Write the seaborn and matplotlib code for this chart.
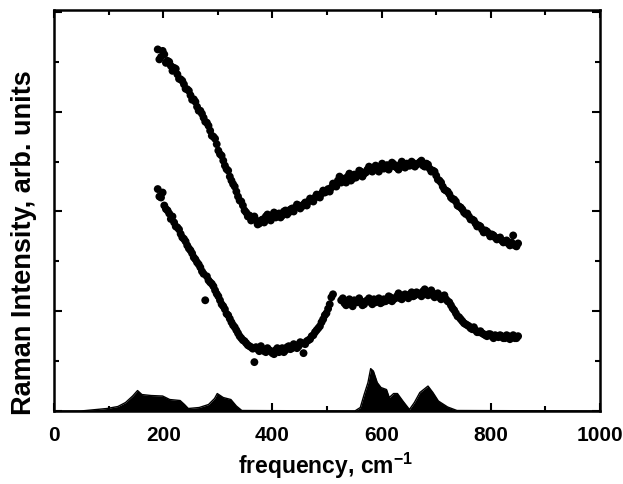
import numpy as np
import pandas as pd
import matplotlib
matplotlib.use("Agg")
import matplotlib.pyplot as plt
import seaborn as sns
from matplotlib.ticker import MultipleLocator, NullFormatter

# ---- data ----
freq = [190, 196, 202, 208, 214, 220, 226, 232, 238, 244,
        250, 256, 262, 268, 274, 280, 286, 292, 298, 304,
        310, 316, 322, 328, 334, 340, 346, 352, 358, 364,
        370, 376, 382, 388, 394, 400, 406, 412, 418, 424,
        430, 436, 442, 448, 454, 460, 466, 472, 478, 484,
        490, 496, 502, 508, 514, 520, 526, 532, 538, 544,
        550, 556, 562, 568, 574, 580, 586, 592, 598, 604,
        610, 616, 622, 628, 634, 640, 646, 652, 658, 664,
        670, 676, 682, 688, 694, 700, 706, 712, 718, 724,
        730, 736, 742, 748, 754, 760, 766, 772, 778, 784,
        790, 796, 802, 808, 814, 820, 826, 832, 838, 844,
        850]

upper = [7.25, 7.10, 7.15, 7.02, 6.92, 6.88, 6.75, 6.65, 6.55, 6.45,
         6.33, 6.25, 6.10, 6.02, 5.88, 5.78, 5.62, 5.50, 5.35, 5.15,
         5.02, 4.85, 4.70, 4.55, 4.40, 4.22, 4.12, 3.98, 3.92, 3.86,
         3.82, 3.76, 3.84, 3.90, 3.86, 3.93, 3.88, 3.96, 3.92, 4.02,
         3.98, 4.06, 4.08, 4.12, 4.10, 4.18, 4.20, 4.24, 4.28, 4.30,
         4.36, 4.38, 4.45, 4.48, 4.55, 4.62, 4.58, 4.66, 4.70, 4.62,
         4.74, 4.72, 4.80, 4.76, 4.84, 4.82, 4.88, 4.84, 4.90, 4.86,
         4.93, 4.90, 4.95, 4.88, 4.94, 4.90, 4.96, 4.92, 4.97, 4.94,
         4.99, 4.92, 4.96, 4.86, 4.82, 4.72, 4.62, 4.50, 4.42, 4.35,
         4.25, 4.20, 4.10, 4.04, 3.95, 3.90, 3.84, 3.76, 3.72, 3.64,
         3.62, 3.56, 3.54, 3.48, 3.46, 3.42, 3.40, 3.36, 3.38, 3.32,
         3.36]

lower = [4.45, 4.28, 4.12, 4.02, 3.85, 3.78, 3.68, 3.55, 3.45, 3.32,
         3.22, 3.08, 2.98, 2.88, 2.75, 2.70, 2.58, 2.50, 2.35, 2.22,
         2.10, 1.95, 1.85, 1.72, 1.62, 1.50, 1.42, 1.36, 1.30, 1.25,
         1.28, 1.20, 1.24, 1.18, 1.22, 1.16, 1.22, 1.18, 1.26, 1.22,
         1.30, 1.26, 1.32, 1.30, 1.36, 1.34, 1.42, 1.50, 1.58, 1.66,
         1.78, 1.92, 2.05, 2.28, np.nan, np.nan, 2.22, 2.16, 2.20, 2.14,
         2.22, 2.18, 2.20, 2.14, 2.22, 2.18, 2.24, 2.20, 2.16, 2.24,
         2.22, 2.28, 2.24, 2.30, 2.26, 2.32, 2.30, 2.34, 2.30, 2.38,
         2.34, 2.40, 2.36, 2.38, 2.32, 2.34, 2.28, 2.30, 2.24, 2.18,
         2.06, 1.96, 1.88, 1.80, 1.74, 1.70, 1.64, 1.62, 1.58, 1.56,
         1.52, 1.54, 1.50, 1.52, 1.48, 1.50, 1.46, 1.50, 1.48, 1.46,
         1.50]

# second, interleaved set of readings (the spectra are densely sampled)
freq2 = [193, 199, 205, 211, 217, 223, 229, 235, 241, 247,
         253, 259, 265, 271, 277, 283, 289, 295, 301, 307,
         313, 319, 325, 331, 337, 343, 349, 355, 361, 367,
         373, 379, 385, 391, 397, 403, 409, 415, 421, 427,
         433, 439, 445, 451, 457, 463, 469, 475, 481, 487,
         493, 499, 505, 511, 517, 523, 529, 535, 541, 547,
         553, 559, 565, 571, 577, 583, 589, 595, 601, 607,
         613, 619, 625, 631, 637, 643, 649, 655, 661, 667,
         673, 679, 685, 691, 697, 703, 709, 715, 721, 727,
         733, 739, 745, 751, 757, 763, 769, 775, 781, 787,
         793, 799, 805, 811, 817, 823, 829, 835, 841, 847]

upper2 = [7.05, 7.22, 6.98, 7.00, 6.82, 6.86, 6.66, 6.62, 6.46, 6.42,
          6.24, 6.20, 6.02, 5.96, 5.80, 5.72, 5.52, 5.46, 5.22, 5.12,
          4.92, 4.82, 4.62, 4.50, 4.30, 4.20, 4.02, 3.90, 3.82, 3.90,
          3.74, 3.82, 3.78, 3.94, 3.82, 3.98, 3.92, 3.88, 4.00, 3.94,
          4.04, 4.00, 4.14, 4.06, 4.14, 4.12, 4.26, 4.20, 4.34, 4.28,
          4.42, 4.40, 4.40, 4.56, 4.50, 4.70, 4.62, 4.58, 4.76, 4.66,
          4.68, 4.82, 4.70, 4.78, 4.90, 4.80, 4.92, 4.80, 4.96, 4.88,
          4.84, 4.98, 4.90, 4.84, 5.00, 4.88, 4.92, 5.00, 4.90, 4.96,
          5.02, 4.90, 4.94, 4.80, 4.80, 4.64, 4.58, 4.44, 4.40, 4.28,
          4.24, 4.12, 4.08, 3.98, 3.96, 3.84, 3.82, 3.70, 3.70, 3.58,
          3.60, 3.50, 3.52, 3.44, 3.48, 3.38, 3.42, 3.32, 3.52, 3.30]

lower2 = [4.30, 4.38, 4.05, 3.96, 3.90, 3.70, 3.64, 3.48, 3.40, 3.26,
          3.16, 3.04, 2.94, 2.80, 2.22, 2.62, 2.55, 2.42, 2.30, 2.14,
          2.04, 1.92, 1.78, 1.68, 1.56, 1.46, 1.40, 1.32, 1.28, 0.98,
          1.24, 1.30, 1.20, 1.26, 1.20, 1.14, 1.26, 1.20, 1.18, 1.28,
          1.24, 1.34, 1.26, 1.38, 1.16, 1.40, 1.44, 1.52, 1.62, 1.70,
          1.84, 1.96, 2.14, 2.34, np.nan, np.nan, 2.26, 2.12, 2.24, 2.10,
          2.18, 2.26, 2.12, 2.20, 2.26, 2.14, 2.18, 2.26, 2.18, 2.20,
          2.30, 2.20, 2.26, 2.36, 2.24, 2.34, 2.26, 2.38, 2.32, 2.36,
          2.30, 2.44, 2.32, 2.42, 2.28, 2.36, 2.24, 2.32, 2.20, 2.12,
          2.02, 1.90, 1.84, 1.76, 1.72, 1.66, 1.68, 1.58, 1.60, 1.54,
          1.50, 1.54, 1.46, 1.50, 1.52, 1.46, 1.52, 1.44, 1.52, 1.46]

dos_freq = [0, 49, 97, 117, 131, 144, 153, 161, 178, 199, 212, 231, 239, 246,
            266, 283, 294, 299, 310, 324, 334, 344, 551, 561, 568, 575, 580,
            585, 592, 599, 609, 614, 622, 629, 639, 651, 660, 670, 685, 694,
            704, 721, 738, 1000]
dos_val = [0, 0, 0.05, 0.09, 0.17, 0.30, 0.41, 0.33, 0.31, 0.30, 0.23, 0.21,
           0.13, 0.05, 0.07, 0.13, 0.25, 0.35, 0.27, 0.23, 0.10, 0.01, 0.0,
           0.07, 0.33, 0.57, 0.85, 0.80, 0.57, 0.47, 0.43, 0.27, 0.35, 0.35,
           0.20, 0.03, 0.17, 0.37, 0.50, 0.37, 0.20, 0.08, 0.01, 0.0]

x_ticks = [0, 200, 400, 600, 800, 1000]

# ---- figure ----
sns.set_style("ticks")
plt.rcParams['font.family'] = ['Liberation Sans', 'DejaVu Sans']
plt.rcParams['font.weight'] = 'bold'
plt.rcParams['text.color'] = 'black'
plt.rcParams['axes.labelcolor'] = 'black'
plt.rcParams['xtick.color'] = 'black'
plt.rcParams['ytick.color'] = 'black'
plt.rcParams['mathtext.fontset'] = 'custom'
plt.rcParams['mathtext.rm'] = 'Liberation Sans:bold'
plt.rcParams['mathtext.bf'] = 'Liberation Sans:bold'

W, H = 623, 485
fig = plt.figure(figsize=(W / 100, H / 100), dpi=100)
ax = fig.add_axes([54 / W, 1 - 412 / H, (600 - 54) / W, (412 - 11) / H])

df1 = pd.DataFrame({"freq": freq, "upper": upper, "lower": lower})
df2 = pd.DataFrame({"freq": freq2, "upper": upper2, "lower": lower2})
for d in (df1, df2):
    for col in ["upper", "lower"]:
        sns.scatterplot(data=d, x="freq", y=col, ax=ax, color="black",
                        s=32, linewidth=0, edgecolor="none", legend=False)

dos = pd.DataFrame({"freq": dos_freq, "dos": dos_val})
sns.lineplot(data=dos, x="freq", y="dos", ax=ax, color="black", lw=1.0)
ax.fill_between(dos["freq"], 0, dos["dos"], color="black", lw=0)

ax.set_xlim(0, 1000)
ax.set_ylim(0, 8.04)
ax.set_xticks(x_ticks)
ax.set_xticklabels([str(t) for t in x_ticks])
ax.xaxis.set_minor_locator(MultipleLocator(100))
ax.yaxis.set_major_locator(MultipleLocator(2))
ax.yaxis.set_minor_locator(MultipleLocator(1))
ax.yaxis.set_major_formatter(NullFormatter())

ax.tick_params(which="both", direction="in", top=True, right=True,
               width=1.5, colors="black")
ax.tick_params(which="major", length=6)
ax.tick_params(which="minor", length=3.5)
ax.tick_params(axis="x", labelsize=15, pad=10)
for lab in ax.get_xticklabels():
    lab.set_fontweight("bold")

for sp in ax.spines.values():
    sp.set_linewidth(1.8)
    sp.set_color("black")

ax.set_xlabel("")
ax.set_ylabel("")
fig.text(326 / W, 1 - 466 / H, "frequency, cm$^{\\mathbf{-1}}$", fontsize=16.5,
         fontweight="bold", ha="center", va="center")
fig.text(24 / W, 1 - 243 / H, "Raman Intensity, arb. units", fontsize=19.5,
         fontweight="bold", rotation=90, ha="center", va="center")

fig.savefig("out.png", dpi=100)
